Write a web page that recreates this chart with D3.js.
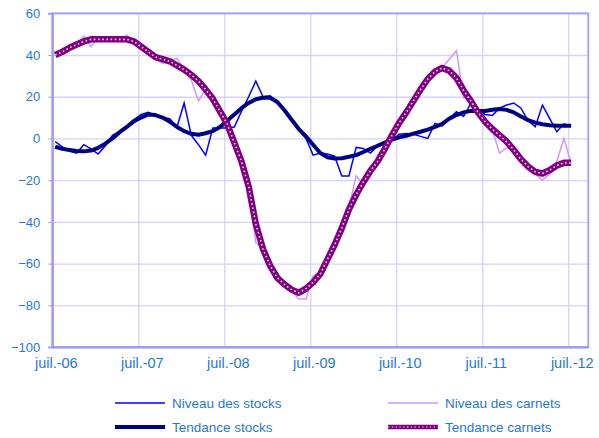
<!DOCTYPE html>
<html lang="fr">
<head>
<meta charset="UTF-8">
<title>Stocks et carnets</title>
<script src="https://cdn.jsdelivr.net/npm/d3@7"></script>
<style>
  body{margin:0;background:#fff;}
  text{font-family:"Liberation Sans",Arial,sans-serif;fill:#1f78d6;}
</style>
</head>
<body>
<div id="chart"></div>
<script>
// monthly values, juil.-06 .. juil.-12 (73 months)
var nivStocks=[-1.5,-4,-6,-7,-3,-5,-7.5,-3.5,1.5,3.5,6,9,11.5,12.5,11,10,9.5,5.5,17,1.5,-3,-8,5,5,5,5.5,13,20,27.5,20,20.5,17.5,13,8.5,4,0,-8,-7,-7.5,-8.5,-18,-18,-4.3,-4.8,-7,-3.5,-2.5,-1,2,2.4,2,1,0,7.2,6,9.5,12.8,10.5,16.8,13.5,11.5,11,14.5,16,17,14.5,8.5,5.6,16,9.6,3.2,7,6];
var nivCarnets=[40,41,44,45.5,49,44,48.5,47,47,47,49.5,47,44,41,38,36,37,38.5,33,28,18,23.5,19,13,6,-1,-11,-24,-50,-53,-60,-66.5,-70,-73,-77,-77,-66,-64,-57,-51,-43,-33,-18,-22,-16,-11,-4,2,7,12,17,23.5,28,33,34,38,42,19.5,19,12.5,8,4.5,-7,-4.5,-5.5,-10,-13.5,-17,-20,-17,-11,0,-12];
var tendStocks=[-4,-5,-5.5,-6,-6.2,-5.8,-4.5,-2.5,0,3,5.5,8.3,10,11.5,11.2,10,8,5.5,3.5,2.2,1.8,2.5,3.5,5.5,8.5,11.5,14.5,17,18.8,19.5,19.5,17.5,13.5,9,4.5,1,-3,-7,-9,-9.6,-9.5,-8.8,-8,-6.5,-5,-3.5,-2,-0.5,0.5,1.3,2.3,3.2,4.2,5.5,7,9.5,11.2,12.5,13.2,13.1,13.2,13.8,14.1,13.7,12.5,10.5,8.8,7.6,6.8,6.3,6.1,6.1,6.1];
var tendCarnets=[40,41.5,43.5,45,46.5,47.5,47.5,47.5,47.5,47.5,47.5,46.5,44,41.5,39,38,37,35,33,30.5,27.5,23.5,19,13,7,-2,-11,-23,-41,-53,-61,-66.8,-70,-72.5,-74,-72,-69,-65,-58,-51,-43,-34,-27,-21,-15.5,-11,-5,1.5,7.5,12.5,18,23.5,28.5,32,33.8,32.5,29,23,18,12.5,8,4.5,1.5,-1.5,-5.5,-10,-13.5,-16,-16.8,-15.2,-13,-11.7,-11.7];
var xLabels=["juil.-06","juil.-07","juil.-08","juil.-09","juil.-10","juil.-11","juil.-12"];
var yTicks=[-100,-80,-60,-40,-20,0,20,40,60];
var seriesNames=["Niveau des stocks","Niveau des carnets","Tendance stocks","Tendance carnets"];

var W=599,H=438;
var pL=52.3,pR=588.3,pT=13.3,pB=347;
var svg=d3.select("#chart").append("svg").attr("width",W).attr("height",H);

var x=d3.scaleLinear().domain([0,74.8]).range([pL,pR]);
var y=d3.scaleLinear().domain([-100,60]).range([pB,pT]);
var xTickPos=xLabels.map(function(d,i){return i*12;});

// grid
svg.append("g").attr("transform","translate("+pL+",0)")
  .call(d3.axisLeft(y).tickValues(yTicks).tickSize(-(pR-pL)).tickFormat(""))
  .call(function(g){g.select(".domain").remove();g.selectAll("line").attr("stroke","#d2d2ff").attr("stroke-width",1.3);});
svg.append("g").attr("transform","translate(0,"+pB+")")
  .call(d3.axisBottom(x).tickValues(xTickPos).tickSize(-(pB-pT)).tickFormat(""))
  .call(function(g){g.select(".domain").remove();g.selectAll("line").attr("stroke","#d2d2ff").attr("stroke-width",1.3);});

// plot border
svg.append("rect").attr("x",pL).attr("y",pT).attr("width",pR-pL).attr("height",pB-pT)
  .attr("fill","none").attr("stroke","#a0a0ff").attr("stroke-width",1.8);

// axes
var yAx=svg.append("g").attr("transform","translate("+pL+",0)")
  .call(d3.axisLeft(y).tickValues(yTicks).tickSize(4).tickPadding(8));
yAx.select(".domain").attr("stroke","#9999ff").attr("stroke-width",2);
yAx.selectAll("line").attr("stroke","#9999ff");
yAx.selectAll("text").style("font-size","13px").attr("fill","#1f78d6");

var xAx=svg.append("g").attr("transform","translate(0,"+pB+")")
  .call(d3.axisBottom(x).tickValues(xTickPos).tickSize(0).tickPadding(11).tickFormat(function(d,i){return xLabels[i];}));
xAx.select(".domain").attr("stroke","#9999ff").attr("stroke-width",2);
xAx.selectAll("text").style("font-size","14.5px").attr("fill","#1f78d6").attr("dx",3.5);

// lines
var line=d3.line().x(function(d,i){return x(i+0.4);}).y(function(d){return y(d);});
svg.append("path").datum(nivStocks).attr("d",line).attr("fill","none").attr("stroke","#0000ff").attr("stroke-width",1.5);
svg.append("path").datum(nivCarnets).attr("d",line).attr("fill","none").attr("stroke","#cc99ff").attr("stroke-width",1.5);
svg.append("path").datum(tendStocks).attr("d",line).attr("fill","none").attr("stroke","#000080").attr("stroke-width",4).attr("stroke-linejoin","round");
svg.append("path").datum(tendCarnets).attr("d",line).attr("fill","none").attr("stroke","#800080").attr("stroke-width",6.5).attr("stroke-linejoin","round");
svg.append("path").datum(tendCarnets).attr("d",line).attr("fill","none").attr("stroke","#e8d0ee").attr("stroke-width",1.6).attr("stroke-dasharray","1.6,2.6");

// legend
var leg=[
  {name:seriesNames[0],x:115,y:403,color:"#0000ff",w:1.5},
  {name:seriesNames[1],x:388,y:403,color:"#cc99ff",w:1.5},
  {name:seriesNames[2],x:115,y:427,color:"#000080",w:4},
  {name:seriesNames[3],x:388,y:427,color:"#800080",w:4.5,dots:true}
];
var lg=svg.append("g").selectAll("g").data(leg).enter().append("g");
lg.append("line").attr("x1",function(d){return d.x;}).attr("x2",function(d){return d.x+50;})
  .attr("y1",function(d){return d.y;}).attr("y2",function(d){return d.y;})
  .attr("stroke",function(d){return d.color;}).attr("stroke-width",function(d){return d.w;});
lg.filter(function(d){return d.dots;}).append("line").attr("x1",function(d){return d.x;}).attr("x2",function(d){return d.x+50;})
  .attr("y1",function(d){return d.y;}).attr("y2",function(d){return d.y;})
  .attr("stroke","#e8d0ee").attr("stroke-width",1.2).attr("stroke-dasharray","1.4,2.4");
lg.append("text").attr("x",function(d){return d.x+57;}).attr("y",function(d){return d.y;}).attr("dy","0.35em")
  .style("font-size","13.5px").text(function(d){return d.name;});
</script>
</body>
</html>
